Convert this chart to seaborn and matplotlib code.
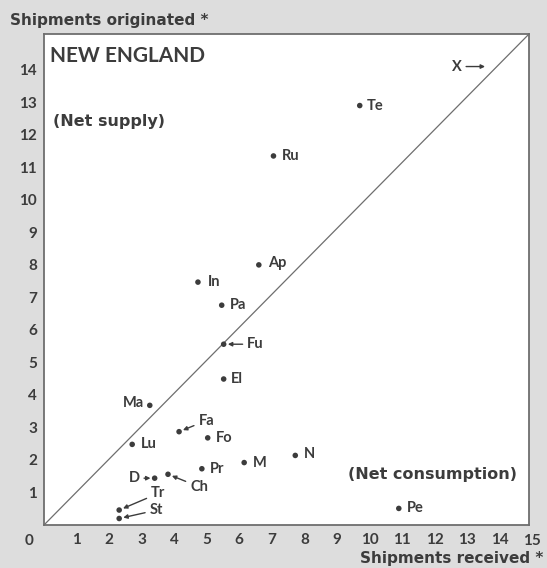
import matplotlib
matplotlib.use("Agg")
import matplotlib.pyplot as plt
import seaborn as sns
import pandas as pd

# Shipments received (x) and originated (y) by industry group, New England
codes = ["Te", "Ru", "Ap", "In", "Pa", "Fu", "El", "Ma", "Fa", "Fo",
         "Lu", "M", "Pr", "D", "Ch", "Tr", "St", "N", "Pe"]
received = [9.7, 7.05, 6.6, 4.73, 5.46, 5.52, 5.52, 3.25, 4.15, 5.03,
            2.71, 6.15, 4.85, 3.4, 3.81, 2.31, 2.31, 7.72, 10.9]
originated = [12.9, 11.35, 8.0, 7.47, 6.76, 5.56, 4.49, 3.68, 2.87, 2.68,
              2.48, 1.92, 1.73, 1.44, 1.56, 0.46, 0.2, 2.14, 0.51]

# Group whose values run off the chart, marked with an arrow at the diagonal
offchart_code = "X"
offchart_xy = (13.55, 14.1)

x_ticks = list(range(1, 15))
y_ticks = list(range(1, 15))

INK = "#3c3c3c"
FRAME = "#6e6e6e"
BG = "#dddddd"
WIDE = ["DejaVu Sans"]

sns.set_theme(style="white")
plt.rcParams["font.family"] = ["Lato", "DejaVu Sans"]
plt.rcParams["font.weight"] = "bold"

df = pd.DataFrame({"code": codes, "received": received, "originated": originated})

fig = plt.figure(figsize=(5.47, 5.68), dpi=100, facecolor=BG)
ax = fig.add_axes([0.0804, 0.0757, 0.8867, 0.8644])
ax.set_facecolor("white")

sns.scatterplot(data=df, x="received", y="originated", ax=ax, s=16,
                color=INK, edgecolor="none", legend=False, zorder=3)

ax.set_xlim(0, 14.9)
ax.set_ylim(0, 15.1)

# Balance line: shipments originated equal to shipments received
ax.plot([0, 1], [0, 1], transform=ax.transAxes, color=FRAME, lw=0.9, zorder=2)

for sp in ax.spines.values():
    sp.set_color(FRAME)
    sp.set_linewidth(1.3)

ax.set_xticks(x_ticks)
ax.set_yticks(y_ticks)
ax.set_xticklabels([str(t) for t in x_ticks])
ax.set_yticklabels([str(t) for t in y_ticks])
ax.tick_params(axis="both", direction="in", length=5, width=1, color=FRAME,
               labelsize=11, labelcolor=INK)
ax.tick_params(axis="x", pad=6)
ax.tick_params(axis="y", pad=5)
for lab in ax.get_xticklabels() + ax.get_yticklabels():
    lab.set_fontweight("bold")
ax.set_xlabel("")
ax.set_ylabel("")

# Corner zero and the last x value just past the frame
ax.text(-0.45, -0.5, "0", ha="center", va="center", fontsize=11,
        fontweight="bold", color=INK, clip_on=False)
ax.text(15.0, -0.5, "15", ha="center", va="center", fontsize=11,
        fontweight="bold", color=INK, clip_on=False)

# Plain labels placed beside their dots (offsets in points)
plain = {
    "Te": (5, 0), "Ru": (6, 0), "Ap": (7, 1), "In": (7, 0), "Pa": (6, 0),
    "El": (5, 0), "Fo": (6, 0), "Lu": (6, 0), "M": (6, 0), "Pr": (6, 0),
    "N": (6, 1), "Pe": (6, 0),
}
left = {"Ma": (-4, 2)}
# Labels joined to their dots by a small arrow: (text offset, ha)
arrowed = {
    "Fu": ((17, 0), "left"),
    "Fa": ((14, 8), "left"),
    "D": ((-11, 0), "right"),
    "Ch": ((16, -9), "left"),
    "Tr": ((23, 12), "left"),
    "St": ((22, 6), "left"),
}

lbl_kw = dict(fontsize=10.5, fontweight="bold", color=INK, va="center")
for c, xv, yv in zip(codes, received, originated):
    if c in plain:
        ax.annotate(c, (xv, yv), xytext=plain[c], textcoords="offset points",
                    ha="left", **lbl_kw)
    elif c in left:
        ax.annotate(c, (xv, yv), xytext=left[c], textcoords="offset points",
                    ha="right", **lbl_kw)
    elif c in arrowed:
        off, ha = arrowed[c]
        ax.annotate(c, (xv, yv), xytext=off, textcoords="offset points",
                    ha=ha, **lbl_kw,
                    arrowprops=dict(arrowstyle="-|>", color=INK, lw=1.0,
                                    mutation_scale=6, shrinkA=1, shrinkB=3))

ax.annotate(offchart_code, offchart_xy, xytext=(-17, 0),
            textcoords="offset points", ha="right", **lbl_kw,
            arrowprops=dict(arrowstyle="-|>", color=INK, lw=1.0,
                            mutation_scale=6, shrinkA=1, shrinkB=0))

ax.text(0.013, 0.975, "NEW ENGLAND", transform=ax.transAxes, ha="left",
        va="top", fontsize=15, fontweight="bold", color=INK)
ax.text(0.018, 0.822, "(Net supply)", transform=ax.transAxes, ha="left",
        va="center", fontsize=11.5, fontweight="bold", color=INK, family=WIDE)
ax.text(0.975, 0.102, "(Net consumption)", transform=ax.transAxes, ha="right",
        va="center", fontsize=11.5, fontweight="bold", color=INK, family=WIDE)

fig.text(0.018, 0.964, "Shipments originated *", ha="left", va="center",
         fontsize=11, fontweight="bold", color=INK, family=WIDE)
fig.text(0.993, 0.016, "Shipments received *", ha="right", va="center",
         fontsize=11, fontweight="bold", color=INK, family=WIDE)

fig.savefig("out.png", dpi=100, facecolor=BG)
